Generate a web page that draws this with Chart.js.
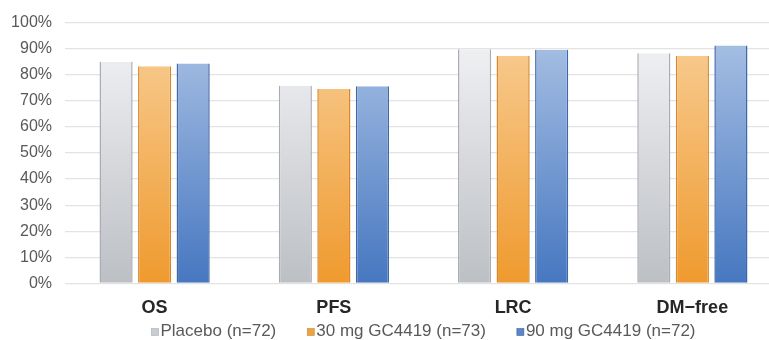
<!DOCTYPE html>
<html><head><meta charset="utf-8">
<script src="https://cdn.jsdelivr.net/npm/chart.js@4"></script>
<style>html,body{margin:0;padding:0;background:#fff;overflow:hidden;width:769px;height:340px}#wrap{width:782px;height:340px}</style>
</head><body><div id="wrap"><canvas id="c" width="782" height="340"></canvas></div>
<script>
const categories = ["OS", "PFS", "LRC", "DM\u2212free"];
const seriesNames = ["Placebo (n=72)", "30 mg GC4419 (n=73)", "90 mg GC4419 (n=72)"];
const placebo = [85, 75.8, 89.8, 88.2];
const mg30 = [83.3, 74.5, 87.3, 87.3];
const mg90 = [84.3, 75.6, 89.6, 91.2];
const yTicks = [0,10,20,30,40,50,60,70,80,90,100];

const palettes = [
  {top:'#f4f5f7', bot:'#bcbfc4', edge:'#a9adb3', leg:'#c9ccd0'},
  {top:'#f8cf98', bot:'#ef9a2e', edge:'#d8882a', leg:'#e8a447'},
  {top:'#adc4e6', bot:'#4677c0', edge:'#3f68a8', leg:'#5a86c8'}
];
function grad(ctx, p){
  const ch = ctx.chart; const a = ch.chartArea;
  if(!a) return p.bot;
  const g = ch.ctx.createLinearGradient(0, a.top, 0, a.bottom);
  g.addColorStop(0, p.top); g.addColorStop(1, p.bot);
  return g;
}
const datasets = [placebo, mg30, mg90].map((d,i)=>({
  label: seriesNames[i], data: d,
  backgroundColor: (ctx)=> ctx.type==='data' ? grad(ctx, palettes[i]) : palettes[i].leg,
  borderColor: palettes[i].edge, borderWidth: {left:1.5,right:1.5,top:0,bottom:0},
  categoryPercentage: 0.645, barPercentage: 0.86
}));
const legendFont = '17px "Liberation Sans", Arial, sans-serif';
const customLegend = {
  id:'customLegend',
  afterDraw(chart){
    const c = chart.ctx, a = chart.chartArea;
    c.save();
    c.font = legendFont;
    const box = 7, boxGap = 2, itemGap = 31;
    const widths = chart.data.datasets.map(ds => box + boxGap + c.measureText(ds.label).width);
    const total = widths.reduce((s,w)=>s+w,0) + itemGap*(widths.length-1);
    let x = (a.left + a.right)/2 - total/2;
    const y = 331;
    c.textBaseline = 'middle'; c.textAlign = 'left';
    chart.data.datasets.forEach((ds,i)=>{
      c.fillStyle = palettes[i].leg;
      c.fillRect(x, y - box/2 + 1, box, box);
      c.strokeStyle = palettes[i].edge; c.lineWidth = 0.6;
      c.strokeRect(x, y - box/2 + 1, box, box);
      c.fillStyle = '#595959';
      c.fillText(ds.label, x + box + boxGap, y);
      x += widths[i] + itemGap;
    });
    c.restore();
  }
};
new Chart(document.getElementById('c'), {
  type:'bar',
  data:{labels:categories, datasets},
  plugins:[customLegend],
  options:{
    responsive:false, animation:false,
    layout:{padding:{top:14,right:0,left:0,bottom:15}},
    plugins:{ legend:{display:false}, tooltip:{enabled:false} },
    scales:{
      x:{grid:{display:false}, border:{display:false},
        ticks:{color:'#262626', padding:6, font:{family:'Liberation Sans, Arial, sans-serif', size:18, weight:'bold'}}},
      y:{min:0, max:100, afterBuildTicks:(s)=>{s.ticks=yTicks.map(v=>({value:v}));},
        afterFit:(s)=>{s.width=65;},
        grid:{color:'#e3e3e3', lineWidth:1.2, drawTicks:false}, border:{display:false},
        ticks:{padding:13, color:'#595959', callback:(v)=>v+'%', font:{family:'Liberation Sans, Arial, sans-serif', size:16}}}
    }
  }
});
</script></body></html>
